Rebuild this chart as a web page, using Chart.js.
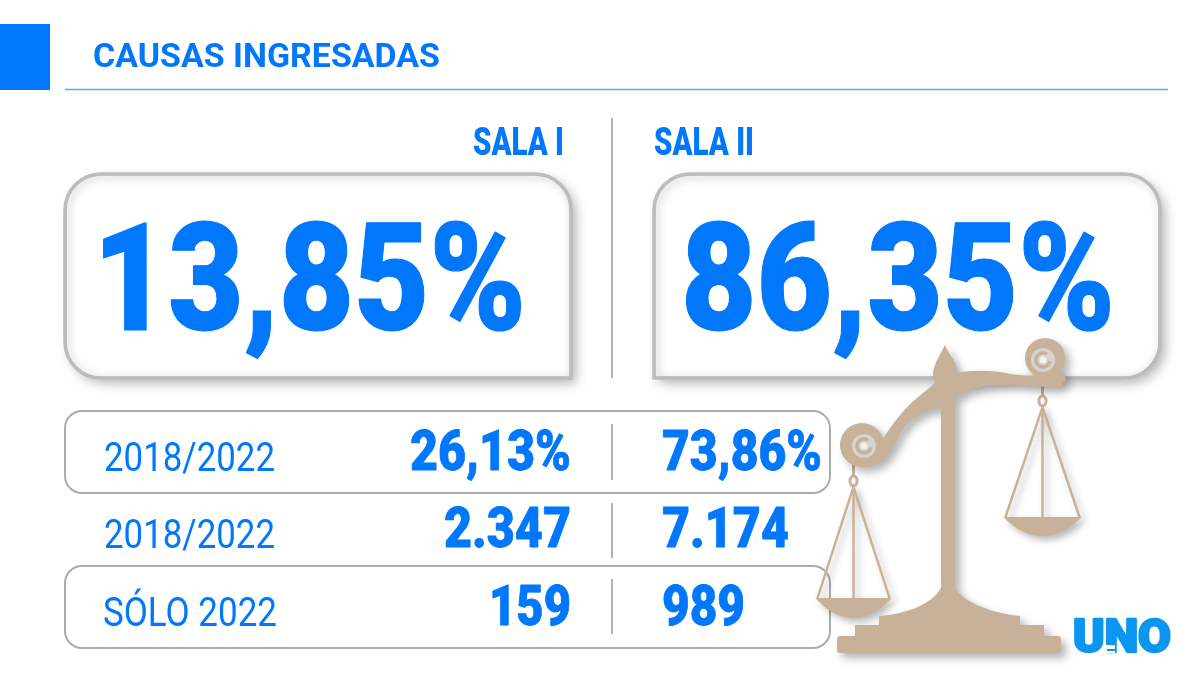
<!doctype html>
<html>
<head>
    <meta charset="utf-8">
    <title>Causas ingresadas</title>
    <script src="https://cdn.jsdelivr.net/npm/chart.js@4"></script>
    <style>
        html, body { margin: 0; padding: 0; background: #fff; }
        canvas { display: block; }
    </style>
</head>
<body>
<canvas id="chart" width="1200" height="675"></canvas>
<script>
    // data
    var chartTitle = 'CAUSAS INGRESADAS';
    var salaNames = ['SALA I', 'SALA II'];
    var rowLabels = ['', '2018/2022', '2018/2022', 'SÓLO 2022'];
    var salaIValues = [13.85, 26.13, 2347, 159];
    var salaIIValues = [86.35, 73.86, 7174, 989];
    var rowUnits = ['%', '%', '', ''];

    // layout, page pixels
    var BLUE = '#0177fb';
    var TAN = '#c7b198';
    var rowBaseline = [330, 470, 547, 625];
    var rowFont = ['900 150px Roboto', '900 56px Roboto', '900 56px Roboto', '900 56px Roboto'];
    var rowBold = [1.2, 0.8, 0.8, 0.8];
    var salaIWidth = [433, 161, 127, 82];
    var salaIIWidth = [434, 160, 127, 83];
    var salaIX = [526, 571, 571, 571];
    var salaIIX = [681, 662, 662, 662];

    function formatValue(v, unit) {
        if (unit === '%') return v.toFixed(2).replace('.', ',') + '%';
        return String(v).replace(/\B(?=(\d{3})+$)/g, '.');
    }

    // Roboto has no condensed cut installed, so squeeze it to the wanted width
    function fitText(ctx, text, x, y, font, width, align, bold) {
        ctx.save();
        ctx.font = font;
        ctx.fillStyle = BLUE;
        ctx.textBaseline = 'alphabetic';
        ctx.textAlign = 'left';
        var w = ctx.measureText(text).width;
        var left = align === 'right' ? x - width : x;
        ctx.translate(left, y);
        ctx.scale(width / w, 1);
        ctx.fillText(text, 0, 0);
        if (bold) {
            ctx.strokeStyle = BLUE;
            ctx.lineWidth = bold;
            ctx.lineJoin = 'round';
            ctx.strokeText(text, 0, 0);
        }
        ctx.restore();
    }

    function corners(ctx, x, y, w, h, r) {
        // r = [tl, tr, br, bl]
        ctx.beginPath();
        ctx.roundRect(x, y, w, h, r);
    }

    function bigBox(ctx, x, y, w, h, r) {
        ctx.save();
        ctx.shadowColor = 'rgba(0,0,0,0.30)';
        ctx.shadowBlur = 12;
        ctx.shadowOffsetX = 5;
        ctx.shadowOffsetY = 5;
        ctx.fillStyle = '#fff';
        corners(ctx, x, y, w, h, r);
        ctx.fill();
        ctx.restore();

        // soft inner shadow
        ctx.save();
        corners(ctx, x, y, w, h, r);
        ctx.clip();
        ctx.shadowColor = 'rgba(0,0,0,0.28)';
        ctx.shadowBlur = 10;
        ctx.shadowOffsetX = 2;
        ctx.shadowOffsetY = 2;
        ctx.strokeStyle = '#bdbdbd';
        ctx.lineWidth = 3;
        corners(ctx, x, y, w, h, r);
        ctx.stroke();
        ctx.restore();

        ctx.strokeStyle = '#bcbcbc';
        ctx.lineWidth = 3.5;
        corners(ctx, x, y, w, h, r);
        ctx.stroke();
    }

    function rowBox(ctx, y) {
        ctx.strokeStyle = '#ababab';
        ctx.lineWidth = 2;
        corners(ctx, 65, y, 765, 82, 17);
        ctx.stroke();
    }

    function vline(ctx, x, y0, y1) {
        ctx.strokeStyle = '#b4b4b4';
        ctx.lineWidth = 2;
        ctx.beginPath();
        ctx.moveTo(x, y0);
        ctx.lineTo(x, y1);
        ctx.stroke();
    }

    function scroll(ctx, cx, cy) {
        ctx.fillStyle = '#d7d4cf';
        ctx.beginPath();
        ctx.arc(cx, cy, 12, 0, Math.PI * 2);
        ctx.fill();
        ctx.strokeStyle = TAN;
        ctx.lineWidth = 3.5;
        ctx.beginPath();
        ctx.arc(cx, cy, 7, 0.2, Math.PI * 1.7);
        ctx.stroke();
        ctx.fillStyle = '#f4f2ef';
        ctx.beginPath();
        ctx.arc(cx, cy, 3.5, 0, Math.PI * 2);
        ctx.fill();
    }

    function pan(ctx, cx, top, yBowl, halfW, depth) {
        ctx.save();
        ctx.shadowColor = 'rgba(0,0,0,0.28)';
        ctx.shadowBlur = 7;
        ctx.shadowOffsetX = 4;
        ctx.shadowOffsetY = 4;
        ctx.strokeStyle = TAN;
        ctx.lineWidth = 2.4;
        ctx.beginPath();
        ctx.moveTo(cx - halfW + 2, yBowl);
        ctx.lineTo(cx, top);
        ctx.lineTo(cx + halfW - 2, yBowl);
        ctx.moveTo(cx, top);
        ctx.lineTo(cx, yBowl);
        ctx.stroke();
        ctx.fillStyle = TAN;
        ctx.beginPath();
        ctx.moveTo(cx - halfW, yBowl);
        ctx.lineTo(cx + halfW, yBowl);
        ctx.quadraticCurveTo(cx + halfW - 18, yBowl + depth, cx, yBowl + depth);
        ctx.quadraticCurveTo(cx - halfW + 18, yBowl + depth, cx - halfW, yBowl);
        ctx.fill();
        ctx.restore();
        // hook
        ctx.strokeStyle = TAN;
        ctx.lineWidth = 3;
        ctx.beginPath();
        ctx.ellipse(cx, top - 6, 3.5, 5, 0, 0, Math.PI * 2);
        ctx.moveTo(cx, top - 11);
        ctx.lineTo(cx, top - 24);
        ctx.stroke();
    }

    function balance(ctx) {
        pan(ctx, 1042.5, 407, 517, 39, 19);
        pan(ctx, 853.5, 487, 598, 38, 20);

        var body = new Path2D(
            'M945 345 C948 353 956 361 958 373 C970 370 990 370 1005 373 C1025 377 1045 376 1064 372 L1066 380 L1060 387 ' +
            'C1040 388 1020 384 1003 385 C985 385 968 388 955 398 L955 588 ' +
            'C962 600 985 612 1020 616 L1020 625 L1044 625 L1044 636 L1058 636 Q1061 636 1061 640 ' +
            'L1061 650 Q1061 653 1058 653 L840 653 Q837 653 837 650 L837 640 Q837 636 840 636 ' +
            'L855 636 L855 625 L879 625 L879 616 C905 614 932 605 941 588 L941 408 ' +
            'C930 408 912 415 902 430 C895 442 890 456 878 464 L862 468 L875 445 L882 440 ' +
            'C890 428 902 410 917 398 C923 393 929 388 935 383 L933 375 C933 365 940 355 945 345 Z'
        );
        body.moveTo(1065, 358);
        body.arc(1045, 358, 20, 0, Math.PI * 2);
        body.moveTo(884, 445);
        body.arc(862, 445, 22, 0, Math.PI * 2);

        ctx.save();
        ctx.shadowColor = 'rgba(0,0,0,0.30)';
        ctx.shadowBlur = 8;
        ctx.shadowOffsetX = 5;
        ctx.shadowOffsetY = 5;
        ctx.fillStyle = TAN;
        ctx.fill(body);
        ctx.restore();

        scroll(ctx, 1043, 360);
        scroll(ctx, 864, 446);
    }

    function logo(ctx) {
        ctx.save();
        ctx.font = '900 46px Roboto';
        ctx.fillStyle = '#0a96f0';
        ctx.strokeStyle = '#0a96f0';
        ctx.lineWidth = 2.5;
        ctx.lineJoin = 'round';
        ctx.textBaseline = 'alphabetic';
        var w = ctx.measureText('UNO').width;
        ctx.save();
        ctx.translate(1073, 652);
        ctx.scale(98 / w, 1);
        ctx.fillText('UNO', 0, 0);
        ctx.strokeText('UNO', 0, 0);
        ctx.restore();
        ctx.fillStyle = '#fff';
        ctx.fillRect(1106, 645, 9, 8);
        ctx.fillStyle = '#0a96f0';
        ctx.fillRect(1107, 649, 8, 2);
        ctx.restore();
    }

    var backdrop = {
        id: 'backdrop',
        beforeDatasetsDraw: function(chart) {
            var ctx = chart.ctx;
            ctx.fillStyle = '#fff';
            ctx.fillRect(0, 0, 1200, 675);
            ctx.fillStyle = '#0177fb';
            ctx.fillRect(0, 24, 50, 66);
            ctx.strokeStyle = '#5ba6ec';
            ctx.lineWidth = 1.5;
            ctx.beginPath();
            ctx.moveTo(65, 89.5);
            ctx.lineTo(1168, 89.5);
            ctx.stroke();

            vline(ctx, 612, 118, 378);
            bigBox(ctx, 65, 174, 506, 204, [36, 36, 0, 36]);
            bigBox(ctx, 654, 174, 506, 204, [36, 36, 36, 0]);
            rowBox(ctx, 411);
            rowBox(ctx, 566);
            vline(ctx, 612, 424, 480);
            vline(ctx, 612, 503, 558);
            vline(ctx, 612, 579, 634);
        },
        afterDatasetsDraw: function(chart) {
            var ctx = chart.ctx;
            fitText(ctx, chartTitle, 93, 67, '700 34px Roboto', 347);
            fitText(ctx, salaNames[0], 564, 155, '900 39px Roboto', 91, 'right');
            fitText(ctx, salaNames[1], 654, 155, '900 39px Roboto', 100);

            rowLabels.forEach(function(label, i) {
                if (label) fitText(ctx, label, i === 3 ? 103 : 104, rowBaseline[i] + 1, '400 41px Roboto', i === 3 ? 174 : 171);
            });

            chart.data.datasets.forEach(function(ds, d) {
                chart.getDatasetMeta(d).data.forEach(function(pt, i) {
                    var raw = ds.data[i];
                    var width = d === 0 ? salaIWidth[i] : salaIIWidth[i];
                    fitText(ctx, formatValue(raw.value, rowUnits[i]), pt.x, pt.y, rowFont[i], width, d === 0 ? 'right' : 'left', rowBold[i]);
                });
            });

            balance(ctx);
            logo(ctx);
        }
    };

    function toPoints(values, xs) {
        return values.map(function(v, i) {
            return { x: xs[i], y: rowBaseline[i], value: v };
        });
    }

    new Chart(document.getElementById('chart').getContext('2d'), {
        type: 'scatter',
        data: {
            datasets: [
                { label: salaNames[0], data: toPoints(salaIValues, salaIX), pointRadius: 0 },
                { label: salaNames[1], data: toPoints(salaIIValues, salaIIX), pointRadius: 0 }
            ]
        },
        options: {
            responsive: false,
            animation: false,
            layout: { padding: 0 },
            plugins: { legend: { display: false }, tooltip: { enabled: false } },
            scales: {
                x: { type: 'linear', min: 0, max: 1200, display: false },
                y: { type: 'linear', min: 0, max: 675, reverse: true, display: false }
            }
        },
        plugins: [backdrop]
    });
</script>
</body>
</html>
